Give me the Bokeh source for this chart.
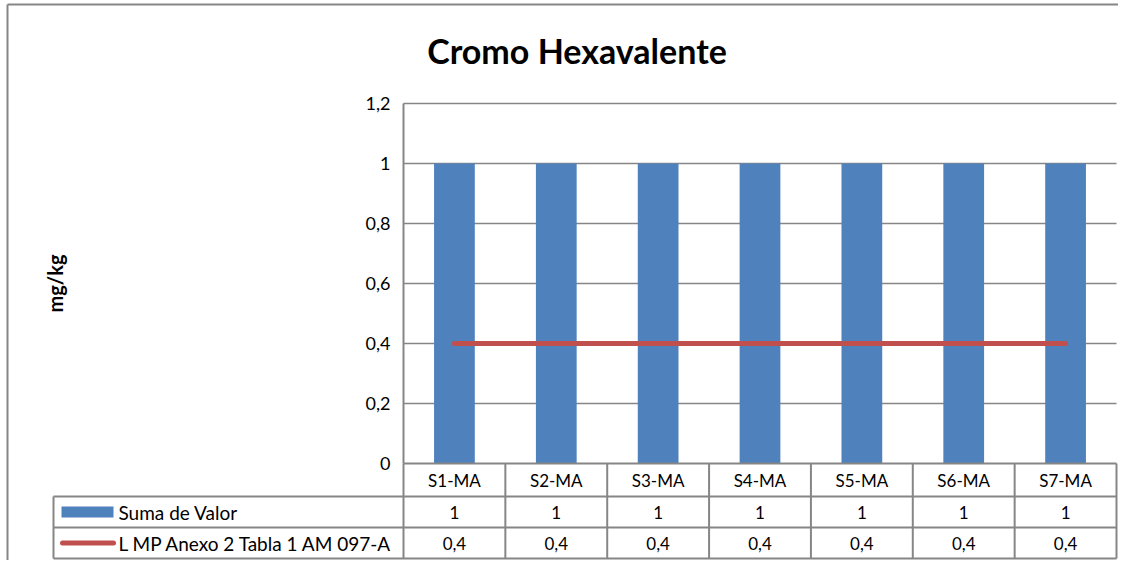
from bokeh.plotting import figure
from bokeh.models import Range1d, FixedTicker, LinearAxis
from bokeh.core.properties import value
from bokeh.embed import file_html
from bokeh.resources import INLINE

# ---------------- data ----------------
categories = ["S1-MA", "S2-MA", "S3-MA", "S4-MA", "S5-MA", "S6-MA", "S7-MA"]
suma_valor = [1, 1, 1, 1, 1, 1, 1]
limite_mp = [0.4, 0.4, 0.4, 0.4, 0.4, 0.4, 0.4]
series_names = ["Suma de Valor", "L MP Anexo 2 Tabla 1 AM 097-A"]
y_ticks = [0, 0.2, 0.4, 0.6, 0.8, 1, 1.2]
title_text = "Cromo Hexavalente"
y_label = "mg/kg"


def fmt(v):
    return f"{v:g}".replace(".", ",")


# ---------------- style / layout (canvas pixels) ----------------
FONT = "Lato"
BLUE = "#4F81BD"
RED = "#C0504D"
GRID = "#868686"
TXT = "#000000"

CANVAS_W, CANVAS_H = 1118, 560
BORDER_L, BORDER_T = 7, 4
PLOT_L, PLOT_R, PLOT_T, PLOT_B = 403, 1116, 103, 463
TABLE_L = 53
ROWS = [463, 496, 527, 558]          # row boundaries of the data table

n = len(categories)
cat_w = (PLOT_R - PLOT_L) / n
y_px = (PLOT_B - PLOT_T) / 1.2


def X(px):
    return (px - PLOT_L) / cat_w


def Y(py):
    return (PLOT_B - py) / y_px


xs = [i + 0.5 for i in range(n)]
row_c = [Y((ROWS[i] + ROWS[i + 1]) / 2) for i in range(3)]

p = figure(width=CANVAS_W, height=CANVAS_H,
           x_range=Range1d(X(0), X(CANVAS_W)),
           y_range=Range1d(Y(CANVAS_H), Y(0)),
           x_axis_location=None, y_axis_location=None,
           output_backend="svg", toolbar_location=None,
           min_border_left=0, min_border_right=0,
           min_border_top=0, min_border_bottom=0)
p.outline_line_color = None
p.background_fill_color = "white"
p.border_fill_color = "white"
p.grid.visible = False

# outer chart border (left & top)
p.segment(x0=[X(BORDER_L), X(BORDER_L)], y0=[Y(CANVAS_H), Y(BORDER_T)],
          x1=[X(BORDER_L), X(CANVAS_W)], y1=[Y(BORDER_T), Y(BORDER_T)],
          line_color=GRID, line_width=2)

# horizontal grid lines
grid_y = [t for t in y_ticks if t > 0]
p.segment(x0=[0] * len(grid_y), y0=grid_y, x1=[n] * len(grid_y), y1=grid_y,
          line_color=GRID, line_width=1.3)

# bars + limit line
p.vbar(x=xs, top=suma_valor, width=0.4, fill_color=BLUE, line_color=None)
p.line(xs, limite_mp, line_color=RED, line_width=5, line_cap="round")

# y axis
ya = LinearAxis(fixed_location=0, bounds=(0, 1.2),
                ticker=FixedTicker(ticks=y_ticks))
ya.major_label_overrides = {t: fmt(t) for t in y_ticks}
ya.axis_line_color = GRID
ya.axis_line_width = 2
ya.major_tick_in = 0
ya.major_tick_out = 0
ya.major_tick_line_color = None
ya.minor_tick_line_color = None
ya.major_label_standoff = 13
ya.major_label_text_font = FONT
ya.major_label_text_font_size = "18px"
ya.major_label_text_color = TXT
ya.axis_label = y_label
ya.axis_label_text_font = FONT
ya.axis_label_text_font_style = "bold"
ya.axis_label_text_font_size = "20px"
ya.axis_label_text_color = TXT
ya.axis_label_standoff = 296
p.add_layout(ya, "left")

# x axis = header row of the table
xa = LinearAxis(fixed_location=0, bounds=(0, n),
                ticker=FixedTicker(ticks=xs))
xa.major_label_overrides = {x: c for x, c in zip(xs, categories)}
xa.axis_line_color = GRID
xa.axis_line_width = 2
xa.major_tick_in = 0
xa.major_tick_out = 0
xa.major_tick_line_color = None
xa.minor_tick_line_color = None
xa.major_label_standoff = 6
xa.major_label_text_font = FONT
xa.major_label_text_font_size = "17px"
xa.major_label_text_color = TXT
p.add_layout(xa, "below")

# table rules
xl = X(TABLE_L)
hy = [Y(r) for r in ROWS[1:]]
p.segment(x0=[xl] * 3, y0=hy, x1=[n] * 3, y1=hy, line_color=GRID, line_width=2)
p.segment(x0=[xl], y0=[Y(ROWS[1])], x1=[xl], y1=[Y(ROWS[3])],
          line_color=GRID, line_width=2)
p.segment(x0=list(range(n + 1)), y0=[Y(ROWS[0])] * (n + 1),
          x1=list(range(n + 1)), y1=[Y(ROWS[3])] * (n + 1),
          line_color=GRID, line_width=2)

# table values
p.text(x=xs, y=[row_c[1]] * n, text=[fmt(v) for v in suma_valor],
       text_align="center", text_baseline="middle",
       text_font=value(FONT), text_font_size=value("17px"), text_color=TXT)
p.text(x=xs, y=[row_c[2]] * n, text=[fmt(v) for v in limite_mp],
       text_align="center", text_baseline="middle",
       text_font=value(FONT), text_font_size=value("17px"), text_color=TXT)

# legend keys in the table
p.rect(x=[X(87)], y=[row_c[1]], width=52, height=11,
       width_units="screen", height_units="screen",
       fill_color=BLUE, line_color=None)
p.line(x=[X(62), X(113)], y=[row_c[2], row_c[2]], line_color=RED,
       line_width=5, line_cap="round")
p.text(x=[X(118)] * 2, y=[row_c[1], row_c[2]], text=series_names,
       text_align="left", text_baseline="middle",
       text_font=value(FONT), text_font_size=value("19px"), text_color=TXT)

# title
p.text(x=[X(576.5)], y=[Y(50)], text=[title_text],
       text_align="center", text_baseline="middle",
       text_font=value(FONT), text_font_style="bold",
       text_font_size=value("34px"), text_color=TXT)

open("out.html", "w").write(file_html(p, INLINE))
